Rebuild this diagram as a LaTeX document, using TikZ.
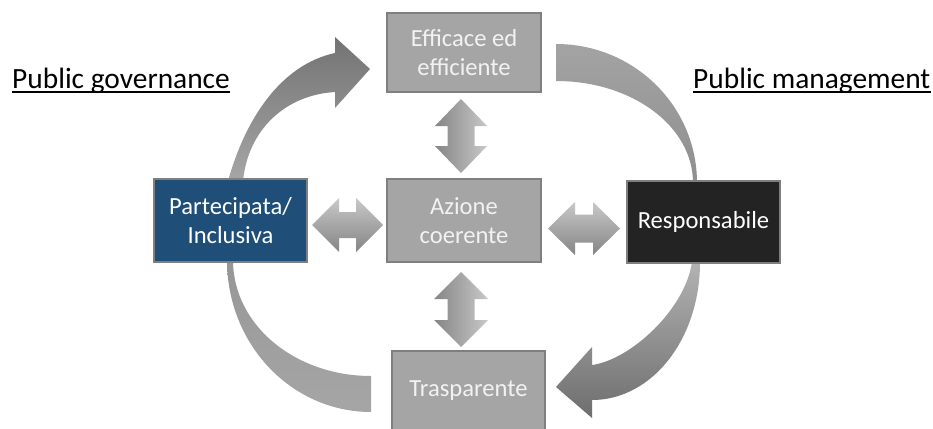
\documentclass[tikz,border=0pt]{standalone}
\usepackage{fontspec}
\setmainfont{Carlito}
\usetikzlibrary{calc}
\definecolor{boxgray}{HTML}{A5A5A5}
\definecolor{boxedge}{HTML}{7F7F7F}
\definecolor{boxblue}{HTML}{1F4E79}
\definecolor{boxblack}{HTML}{232323}
\definecolor{txtw}{HTML}{F2F2F2}
\definecolor{arlight}{HTML}{C8C8C8}
\definecolor{ardark}{HTML}{858585}
\newcommand\dblharrow[6]{% x1 x2 yc H S L
  \shade[top color=arlight, bottom color=ardark]
    (#1,#3) -- ({#1+#6},{#3-#4}) -- ({#1+#6},{#3-#5}) -- ({#2-#6},{#3-#5}) -- ({#2-#6},{#3-#4})
    -- (#2,#3) -- ({#2-#6},{#3+#4}) -- ({#2-#6},{#3+#5}) -- ({#1+#6},{#3+#5}) -- ({#1+#6},{#3+#4}) -- cycle;}
\newcommand\dblvarrow[6]{% y1 y2 xc H S L
  \shade[left color=ardark, right color=arlight]
    (#3,#1) -- ({#3+#4},{#1+#6}) -- ({#3+#5},{#1+#6}) -- ({#3+#5},{#2-#6}) -- ({#3+#4},{#2-#6})
    -- (#3,#2) -- ({#3-#4},{#2-#6}) -- ({#3-#5},{#2-#6}) -- ({#3-#5},{#1+#6}) -- ({#3-#4},{#1+#6}) -- cycle;}
\begin{document}
\begin{tikzpicture}[x=1pt,y=-1pt,
  box/.style={rectangle, draw=boxedge, line width=2pt, fill=boxgray, text=txtw,
    align=center, font=\fontsize{24.6}{29}\selectfont, inner sep=2pt},
  lbl/.style={inner sep=0pt, anchor=base west, font=\fontsize{29.4}{33}\selectfont, text=black}]
\useasboundingbox (0,0) rectangle (933,428);
\fill[white] (0,0) rectangle (933,428);

% curved arrows
\shade[top color=black!55, bottom color=black!35]
  (228,181) .. controls (245,120) and (280,65) .. (335,53) -- (335,37) -- (370,69) -- (335,108) -- (335,92)
  .. controls (285,95) and (248,130) .. (243,181) -- cycle;
\shade[top color=black!36, bottom color=black!44]
  (556,44) .. controls (634,44) and (697,106) .. (697,183) -- (693,183)
  .. controls (693,126) and (632,81) .. (556,81) -- cycle;
\shade[top color=black!41, bottom color=black!35]
  (227,260) .. controls (227,345) and (292,412) .. (371,412) -- (371,376)
  .. controls (295,376) and (233,325) .. (233,260) -- cycle;
\shade[top color=black!30, bottom color=black!57]
  (700,262) .. controls (700,339) and (652,400) .. (592,400) -- (592,418) -- (556,387) -- (592,347) -- (592,365)
  .. controls (630,360) and (685,310) .. (692,262) -- cycle;

% boxes
\node[box, minimum width=154pt, minimum height=79pt] (top) at (464,52.5) {Efficace ed\\efficiente};
\node[box, minimum width=154pt, minimum height=83pt] (mid) at (464,220.5) {Azione\\coerente};
\node[box, fill=boxblue, text=white, minimum width=153pt, minimum height=83pt] (left) at (230.5,220.5) {Partecipata/\\Inclusiva};
\node[box, fill=boxblack, text=white, minimum width=153pt, minimum height=82pt] (right) at (703.5,222) {Responsabile};
\node[box, minimum width=153pt, minimum height=79pt] (bot) at (468.5,390.5) {Trasparente};

% double arrows
\dblharrow{312}{383}{225}{27}{13}{27}
\dblharrow{548}{620}{228.5}{26.5}{14}{27}
\dblvarrow{99}{173}{461}{26}{13.5}{27}
\dblvarrow{272}{347}{461}{27}{13.5}{27}

% labels
\node[lbl] (lg) at (12,88) {Public governance};
\node[lbl] (lm) at (693,88) {Public management};
\draw[line width=1.6pt] ([yshift=-4pt]lg.base west) -- ([yshift=-4pt]lg.base east);
\draw[line width=1.6pt] ([yshift=-4pt]lm.base west) -- ([yshift=-4pt]lm.base east);
\end{tikzpicture}
\end{document}
